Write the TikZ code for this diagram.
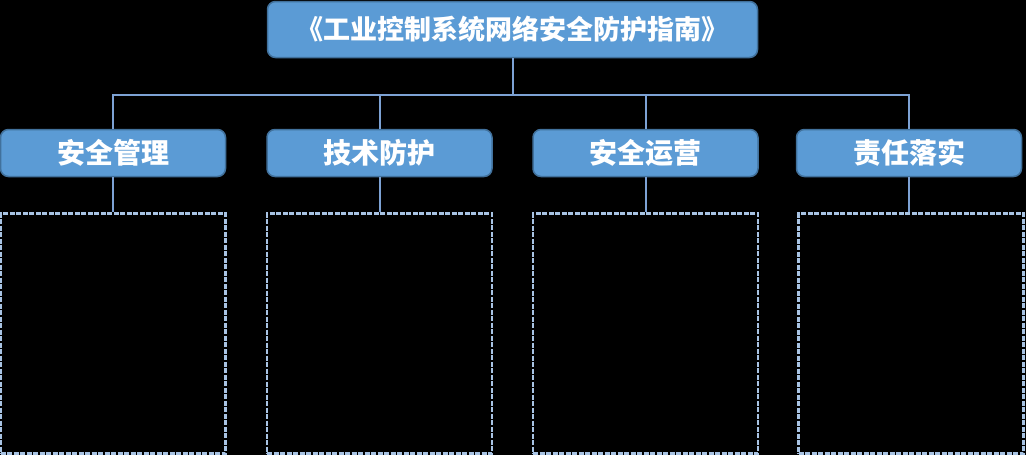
\documentclass[tikz,border=0pt]{standalone}
\usepackage{fontspec}
\newfontfamily\cjk{Noto Sans CJK SC}
\usetikzlibrary{positioning,calc}
\definecolor{boxblue}{HTML}{5B9BD5}
\definecolor{boxedge}{HTML}{41719C}
\definecolor{linkblue}{HTML}{7DA2D4}
\definecolor{dashblue}{HTML}{A8C3E3}

\begin{document}
\begin{tikzpicture}[
    x=1pt, y=-1pt,
    node distance=35pt,
    titlenode/.style={
        rectangle, rounded corners=8pt, draw=boxedge, fill=boxblue, line width=1.5pt,
        minimum width=490pt, minimum height=56pt, inner sep=0pt,
        text=white, font=\cjk\bfseries\fontsize{27}{30}\selectfont
      },
    partnode/.style={
        rectangle, rounded corners=8pt, draw=boxedge, fill=boxblue, line width=1.5pt,
        minimum width=225pt, minimum height=47pt, inner sep=0pt,
        text=white, font=\cjk\bfseries\fontsize{28}{30}\selectfont
      },
    listnode/.style={
        rectangle, draw=dashblue, line width=2.5pt, dash pattern=on 5pt off 1.5pt,
        minimum width=225pt, minimum height=240pt, inner sep=0pt
      },
    link/.style={
        draw=linkblue, line width=2pt
      },
    bus/.style={
        to path={|- ($(\tikztostart)!0.52!(\tikztotarget)$) -| (\tikztotarget)}
      },
  ]
  \useasboundingbox (0,0) rectangle (1026,455);
  \fill[black] (0,0) rectangle (1026,455);

  \node[titlenode](guide) at (512.5,29.5) {《工业控制系统网络安全防护指南》};
  \node[partnode](mgmt) at (113,153) {安全管理};
  \node[partnode](tech) at (379.5,153) {技术防护};
  \node[partnode](ops) at (645.5,153) {安全运营};
  \node[partnode](duty) at (909,153) {责任落实};

  \node[listnode](mgmtlist) [below=of mgmt] {};
  \node[listnode](techlist) [below=of tech] {};
  \node[listnode](opslist) [below=of ops] {};
  \node[listnode](dutylist) [below=of duty, xshift=2pt] {};

  % title down to the four parts
  \path[link]
    (guide.south) edge[bus] (mgmt.north)
    (guide.south) edge[bus] (tech.north)
    (guide.south) edge[bus] (ops.north)
    (guide.south) edge[bus] (duty.north)
  ;
  \path[link]
    (mgmt) edge (mgmtlist)
    (tech) edge (techlist)
    (ops) edge (opslist)
    (duty) edge (duty |- dutylist.north)
  ;
\end{tikzpicture}
\end{document}
